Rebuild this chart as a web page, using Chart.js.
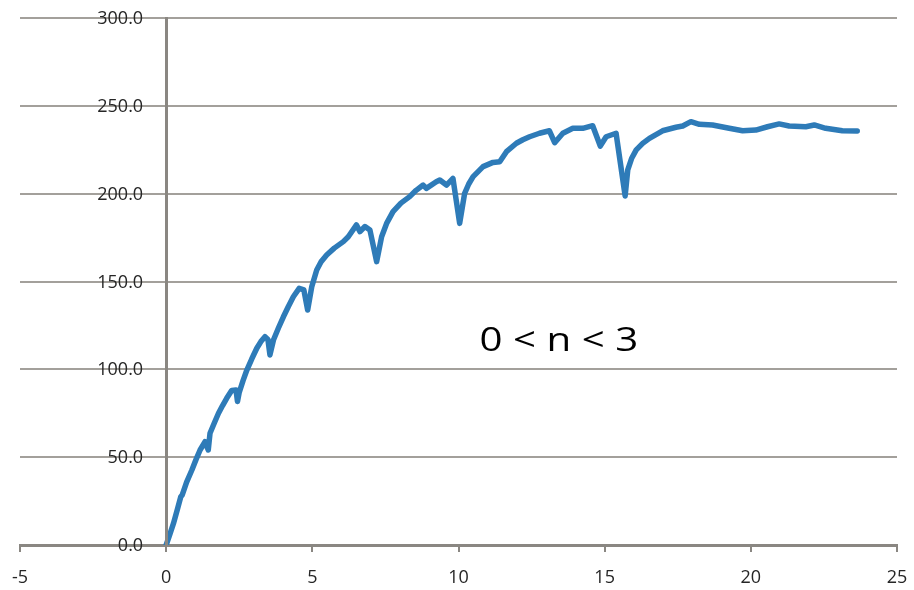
<!DOCTYPE html>
<html>
<head>
<meta charset="utf-8">
<script src="https://cdn.jsdelivr.net/npm/chart.js@4/dist/chart.umd.min.js"></script>
<style>
  html, body { margin: 0; padding: 0; background: #ffffff; }
  #wrap { width: 914px; height: 590px; }
</style>
</head>
<body>
<div id="wrap"><canvas id="chart" width="914" height="590"></canvas></div>
<script>
// Time (x) and measured value (y) for the run
const xValues = [
  0.00, 0.12, 0.25, 0.38, 0.50, 0.55, 0.70, 0.88, 1.02, 1.16, 1.33, 1.44, 1.50, 1.65, 1.79,
  1.93, 2.07, 2.24, 2.39, 2.44, 2.50, 2.63, 2.76, 2.93, 3.10, 3.24, 3.38, 3.48, 3.55, 3.67,
  3.84, 4.01, 4.18, 4.35, 4.55, 4.71, 4.84, 4.98, 5.15, 5.30, 5.49, 5.75, 6.06, 6.23, 6.51,
  6.63, 6.80, 6.97, 7.20, 7.37, 7.55, 7.76, 8.03, 8.33, 8.55, 8.79, 8.90, 9.24, 9.36, 9.59,
  9.81, 10.04, 10.21, 10.35, 10.50, 10.84, 11.18, 11.41, 11.64, 11.98, 12.20, 12.43, 12.77, 13.11, 13.29,
  13.57, 13.91, 14.25, 14.59, 14.85, 15.05, 15.39, 15.70, 15.79, 15.92, 16.08, 16.30, 16.53, 16.98, 17.44,
  17.67, 17.95, 18.24, 18.69, 19.26, 19.72, 20.17, 20.57, 20.97, 21.31, 21.88, 22.17, 22.56, 23.13, 23.64
];
const yValues = [
  0.0, 5.8, 12.3, 20.0, 27.5, 28.5, 35.8, 42.7, 48.6, 54.1, 58.8, 54.1, 63.6, 69.6, 75.0,
  79.4, 83.5, 87.9, 88.2, 81.7, 86.9, 93.6, 99.6, 106.0, 112.0, 115.8, 118.6, 117.0, 108.2, 116.7,
  123.5, 129.9, 135.8, 141.3, 146.1, 145.2, 133.8, 147.0, 156.5, 161.2, 165.1, 169.0, 172.7, 175.5, 182.2,
  178.4, 181.3, 179.3, 161.3, 175.5, 183.4, 189.8, 194.6, 198.3, 201.9, 204.9, 203.0, 206.8, 207.8, 204.9,
  208.7, 183.1, 200.2, 205.5, 209.7, 215.4, 217.8, 218.2, 223.9, 228.7, 230.7, 232.4, 234.4, 235.8, 229.0,
  234.4, 237.2, 237.2, 238.7, 227.1, 232.4, 234.4, 198.7, 213.5, 220.0, 224.9, 228.6, 231.5, 235.8, 237.8,
  238.5, 241.0, 239.5, 239.1, 237.2, 235.8, 236.2, 238.1, 239.7, 238.5, 238.1, 239.1, 237.2, 235.8, 235.7
];
const xTicks = [-5, 0, 5, 10, 15, 20, 25];
const yTicks = [0, 50, 100, 150, 200, 250, 300];
const annotationText = '0 < n < 3';

const points = xValues.map((x, i) => ({ x: x, y: yValues[i] }));

const gridColor = '#a3a09b';
const axisColor = '#8a8782';
const labelColor = '#262626';
const tickFont = { family: 'Open Sans', size: 18 };

// Value labels for the vertical axis, set off to the left of the axis line at x = 0
const yAxisLabels = {
  id: 'yAxisLabels',
  afterDraw(chart) {
    const { ctx, scales } = chart;
    const x0 = scales.x.getPixelForValue(0) - 23;
    ctx.save();
    ctx.fillStyle = labelColor;
    ctx.font = tickFont.size + 'px "' + tickFont.family + '"';
    ctx.textAlign = 'right';
    ctx.textBaseline = 'middle';
    yTicks.forEach(v => {
      ctx.fillText(v.toFixed(1), x0, scales.y.getPixelForValue(v) + 1);
    });
    ctx.restore();
  }
};

// Draws the range note inside the plot area
const noteLabel = {
  id: 'noteLabel',
  afterDatasetsDraw(chart) {
    const { ctx, scales } = chart;
    const x = scales.x.getPixelForValue(10.72);
    const y = scales.y.getPixelForValue(110.2);
    ctx.save();
    ctx.translate(x, y);
    ctx.scale(1.22, 1);
    ctx.fillStyle = '#000000';
    ctx.font = '33px "Open Sans"';
    ctx.textAlign = 'left';
    ctx.textBaseline = 'alphabetic';
    ctx.fillText(annotationText, 0, 0);
    ctx.restore();
  }
};

new Chart(document.getElementById('chart'), {
  type: 'scatter',
  data: {
    datasets: [{
      data: points,
      showLine: true,
      borderColor: '#2e7bb8',
      borderWidth: 5.5,
      pointRadius: 0,
      pointHoverRadius: 0,
      tension: 0,
      fill: false,
      borderJoinStyle: 'round',
      borderCapStyle: 'round'
    }]
  },
  options: {
    responsive: false,
    animation: false,
    devicePixelRatio: 1,
    layout: { padding: { left: 20, right: 17, top: 18, bottom: 0 } },
    plugins: {
      legend: { display: false },
      tooltip: { enabled: false }
    },
    scales: {
      x: {
        type: 'linear',
        position: 'bottom',
        min: xTicks[0],
        max: xTicks[xTicks.length - 1],
        afterBuildTicks(scale) { scale.ticks = xTicks.map(v => ({ value: v })); },
        afterFit(scale) {
          scale.height = 45;
          scale.paddingLeft = 0;
          scale.paddingRight = 0;
        },
        border: { display: true, color: axisColor, width: 3 },
        grid: { drawOnChartArea: false, drawTicks: true, tickLength: 7, color: axisColor, lineWidth: 2 },
        ticks: { color: labelColor, font: tickFont, padding: 15, maxRotation: 0,
          callback: v => String(v) }
      },
      y: {
        type: 'linear',
        position: { x: 0 },
        min: yTicks[0],
        max: yTicks[yTicks.length - 1],
        afterBuildTicks(scale) { scale.ticks = yTicks.map(v => ({ value: v })); },
        afterFit(scale) {
          scale.paddingTop = 0;
          scale.paddingBottom = 0;
        },
        border: { display: true, color: axisColor, width: 3, z: 1 },
        grid: { drawOnChartArea: true, drawTicks: false, color: gridColor, lineWidth: 2 },
        ticks: { display: false }
      }
    }
  },
  plugins: [yAxisLabels, noteLabel]
});
</script>
</body>
</html>
